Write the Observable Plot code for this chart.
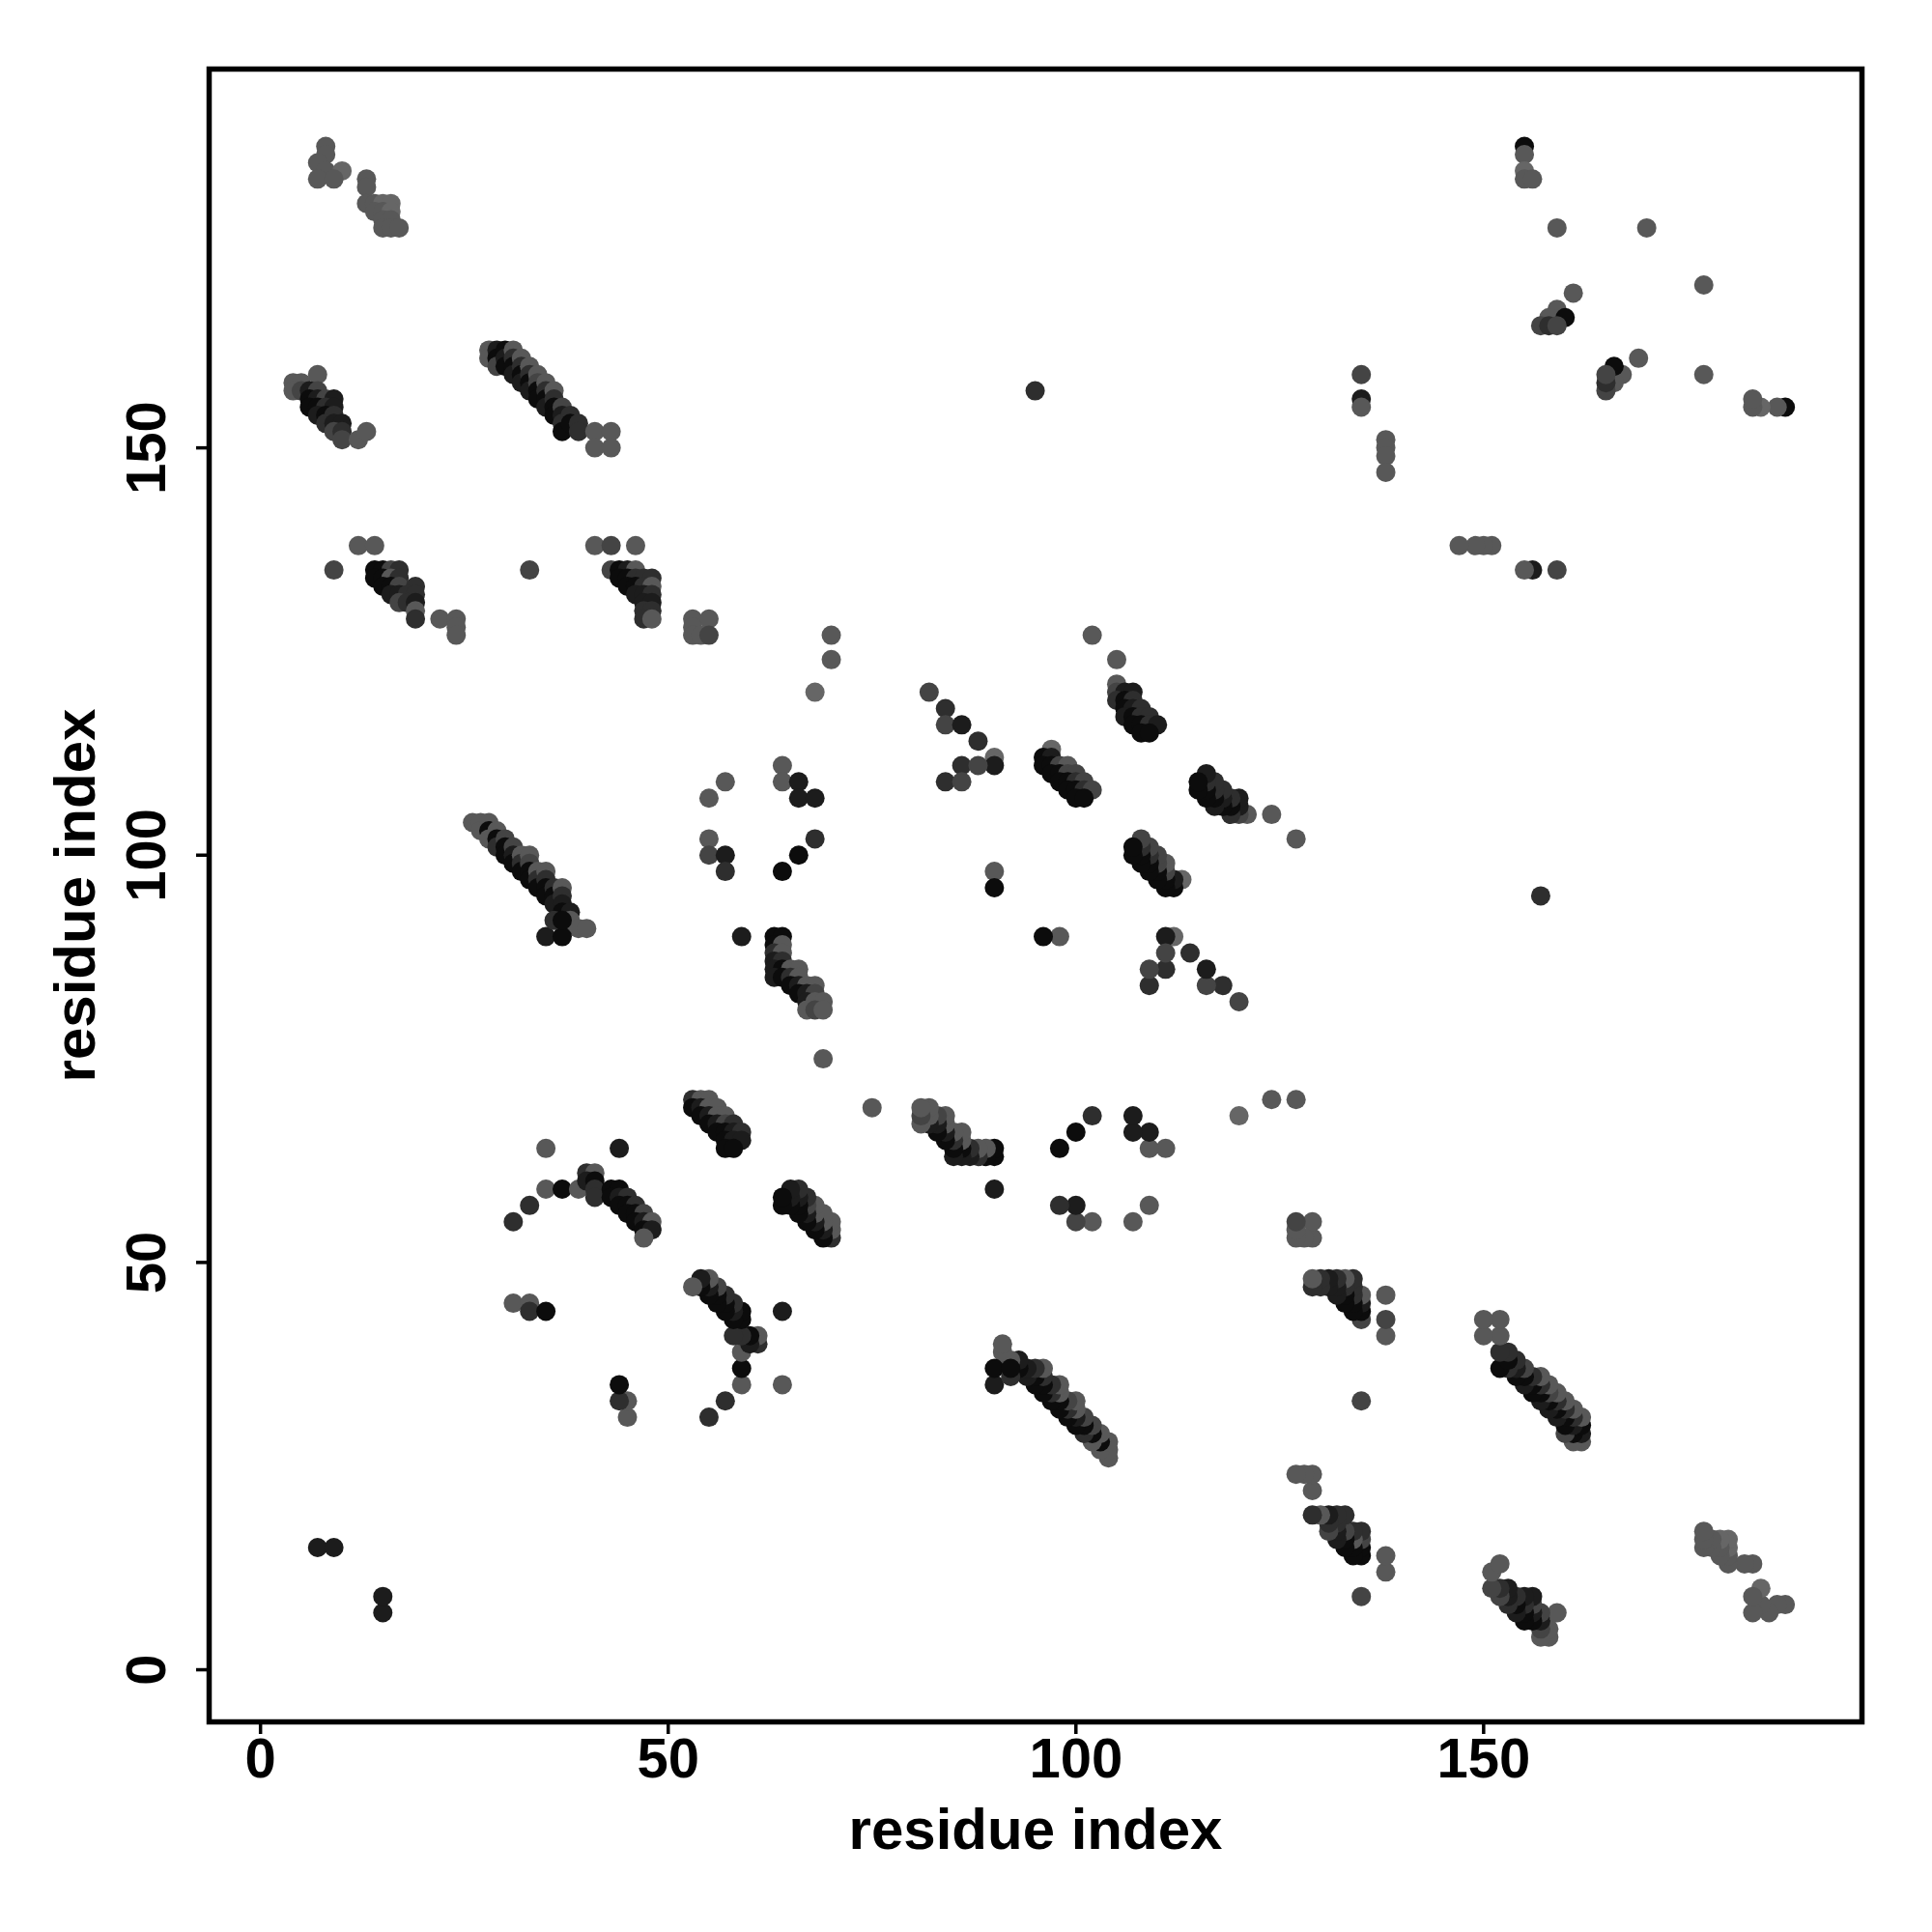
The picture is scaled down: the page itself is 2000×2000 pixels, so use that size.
<!DOCTYPE html>
<html><head><meta charset="utf-8">
<script src="https://cdn.jsdelivr.net/npm/d3@7"></script>
<script src="https://cdn.jsdelivr.net/npm/@observablehq/plot@0.6"></script>
<style>html,body{margin:0;padding:0;background:#fff}</style>
</head><body><div id="chart"></div>
<script>
// Tick values
const xTicks = [0, 50, 100, 150];
const yTicks = [0, 50, 100, 150];
// grey levels (index 0 = darkest)
const shadeColors = ["#0c0c0c", "#1c1c1c", "#2e2e2e", "#444444", "#585858", "#666666"];

// contacts [residue i, residue j, shade]; contact map is symmetric (drawn at (i,j) and (j,i))
const clusterA = [[8,187,4],[8,186,4],[7,185,4],[8,184,4],[10,184,5],[7,183,4],[9,183,4]];
const clusterB = [[13,183,4],[13,182,4],[13,180,4],[14,180,4],[15,180,5],[16,180,5],[14,179,4],[15,179,4],[16,179,5],[15,178,4],[16,178,4],[15,177,4],[16,177,4],[17,177,4]];
const clusterC = [[4,158,4],[5,158,4],[7,159,4],[4,157,4],[5,157,3],[6,157,1],[7,157,3],[6,156,0],[7,156,1],[8,156,3],[9,156,1],[6,155,0],[7,155,0],[8,155,2],[9,155,1],[7,154,1],[8,154,0],[9,154,2],[8,153,2],[9,153,1],[10,153,1],[9,152,3],[10,152,2],[10,151,3],[12,151,4],[13,152,4]];
const clusterD = [[28,162,4],[28,161,4],[29,162,1],[29,161,0],[29,160,3],[30,162,0],[30,161,1],[30,160,0],[31,162,4],[31,161,2],[31,160,0],[31,159,1],[32,161,4],[32,160,2],[32,159,0],[32,158,1],[33,160,4],[33,159,2],[33,158,0],[33,157,1],[34,159,4],[34,158,3],[34,157,0],[34,156,0],[35,158,4],[35,157,2],[35,156,0],[35,155,1],[36,157,4],[36,156,2],[36,155,0],[36,154,0],[37,155,3],[37,154,1],[37,153,2],[37,152,0],[38,154,2],[38,153,0],[39,153,2],[39,152,2],[41,152,4],[43,152,4],[41,150,4],[43,150,4]];
const clusterE = [[12,138,4],[14,138,4],[9,135,3],[14,135,0],[15,135,0],[16,135,3],[17,135,2],[14,134,0],[15,134,0],[16,134,4],[17,134,2],[15,133,0],[16,133,0],[17,133,3],[19,133,2],[16,132,1],[17,132,1],[18,132,2],[19,132,2],[17,131,3],[18,131,2],[19,131,1],[19,130,4],[19,129,2],[22,129,4],[24,129,4],[24,128,4],[24,127,4]];
const clusterF = [[41,138,4],[43,138,3],[46,138,4],[33,135,3],[43,135,3],[44,135,0],[45,135,1],[46,135,4],[44,134,0],[45,134,0],[46,134,2],[47,134,2],[48,134,2],[45,133,0],[46,133,0],[47,133,2],[48,133,4],[46,132,1],[47,132,1],[48,132,2],[47,131,1],[48,131,1],[47,130,2],[48,130,2],[47,129,2],[48,129,4]];
const clusterG = [[53,129,4],[55,129,4],[53,128,4],[53,127,4],[54,127,4],[55,127,3]];
const clusterH = [[26,104,4],[27,104,4],[27,103,4],[28,104,4],[28,103,0],[28,102,4],[29,103,4],[29,102,0],[29,101,2],[30,102,3],[30,101,0],[30,100,0],[31,101,3],[31,100,1],[31,99,0],[32,100,4],[32,99,2],[32,98,0],[33,100,4],[33,99,3],[33,98,0],[33,97,0],[34,98,4],[34,97,2],[34,96,0],[35,98,4],[35,97,2],[35,96,0],[35,95,0],[36,96,2],[36,95,0],[36,94,1],[37,96,4],[37,95,2],[37,94,1],[37,93,0],[38,93,1],[38,92,4],[39,91,4],[40,91,4],[35,90,1],[37,90,0],[36,92,2],[37,92,0]];
const clusterI = [[57,109,4],[55,107,4],[55,102,4],[55,100,3],[57,100,1],[57,98,2]];
const scatterMid = [[70,127,4],[70,124,4],[68,120,5],[82,120,3],[84,118,2],[84,116,3],[86,116,1],[88,114,2],[90,112,5],[90,111,1],[86,111,2],[88,111,3],[84,109,2],[86,109,3],[64,111,4],[64,109,4],[66,109,1],[66,107,1],[68,107,1],[68,102,2],[66,100,0],[64,98,0],[90,98,4],[90,96,0]];
const clusterJ = [[97,113,5],[96,112,0],[97,112,1],[96,111,0],[97,111,0],[98,111,3],[99,111,4],[97,110,0],[98,110,0],[99,110,3],[100,110,3],[98,109,0],[99,109,0],[100,109,2],[101,109,3],[99,108,0],[100,108,0],[101,108,2],[102,108,3],[100,107,0],[101,107,0]];
const clusterK = [[102,127,4],[105,124,4],[105,121,4],[105,120,3],[106,120,1],[107,120,1],[105,119,2],[106,119,0],[107,119,2],[106,118,0],[107,118,1],[108,118,2],[106,117,1],[107,117,0],[108,117,2],[109,117,2],[107,116,0],[108,116,0],[109,116,2],[110,116,1],[108,115,0],[109,115,0]];
const clusterTop = [[155,187,0],[155,186,4],[155,184,5],[155,183,4],[156,183,4],[159,177,4],[170,177,4],[161,169,4],[159,167,4],[158,166,4],[160,166,0],[157,165,3],[158,165,2],[159,165,3],[135,159,3],[135,156,1],[135,155,4],[138,151,4],[138,150,4],[138,149,4],[138,147,4],[95,157,2]];
const clusterN = [[53,70,2],[54,70,4],[55,70,4],[53,69,0],[54,69,1],[55,69,4],[56,69,4],[54,68,0],[55,68,1],[56,68,4],[57,68,4],[55,67,0],[56,67,1],[57,67,3],[58,67,2],[56,66,0],[57,66,0],[58,66,1],[59,66,2],[57,65,0],[58,65,1],[59,65,1],[57,64,0],[58,64,0]];
const clusterO = [[31,55,2],[33,57,2],[35,59,4],[37,59,0],[39,59,4],[40,61,2],[41,61,4],[40,60,1],[41,60,0],[41,59,2],[41,58,2],[43,59,0],[44,59,0],[43,58,0],[44,58,1],[45,58,2],[44,57,0],[45,57,0],[46,57,2],[45,56,0],[46,56,0],[47,56,3],[46,55,0],[47,55,1],[48,55,4],[47,54,0],[48,54,1],[47,53,4],[44,64,1],[35,64,4]];
const clusterP = [[31,45,4],[33,45,4],[33,44,2],[35,44,0]];
const clusterR = [[63,90,0],[64,90,0],[63,89,0],[64,89,4],[63,88,2],[64,88,4],[63,87,1],[64,87,2],[63,86,1],[64,86,0],[65,86,4],[66,86,4],[63,85,1],[64,85,0],[65,85,2],[66,85,4],[65,84,0],[66,84,1],[67,84,4],[68,84,4],[66,83,0],[67,83,1],[68,83,3],[67,82,1],[68,82,4],[69,82,4],[67,81,4],[68,81,3],[69,81,4],[69,75,4],[59,90,1]];
const clusterS = [[7,15,1],[9,15,1]];

const contacts = [clusterA, clusterB, clusterC, clusterD, clusterE, clusterF, clusterG, clusterH, clusterI,
  scatterMid, clusterJ, clusterK, clusterTop, clusterN, clusterO, clusterP, clusterR, clusterS]
  .flat().map(([i, j, s]) => ({i, j, color: shadeColors[s]}));

const font = "'Liberation Sans', Arial, Helvetica, sans-serif";
const chart = Plot.plot({
  width: 2000, height: 2000,
  marginLeft: 216, marginRight: 73, marginTop: 71, marginBottom: 218,
  x: {domain: [-6.3, 196.4]},
  y: {domain: [-6.4, 196.5]},
  color: {type: "identity"},
  style: {fontFamily: font, background: "#fff", color: "#000"},
  marks: [
    Plot.dot(contacts, {x: "i", y: "j", r: 10, fill: "color", stroke: null}),
    Plot.dot(contacts, {x: "j", y: "i", r: 10, fill: "color", stroke: null}),
    Plot.frame({stroke: "#000", strokeWidth: 5.5}),
    Plot.axisX(xTicks, {tickSize: 13, strokeWidth: 3.5, tickPadding: 3, fontSize: 58, fontWeight: "bold", label: null}),
    Plot.axisY(yTicks, {tickSize: 13, strokeWidth: 3.5, tickRotate: -90, tickPadding: 33, fontSize: 58, fontWeight: "bold", label: null}),
    Plot.text(["residue index"], {frameAnchor: "bottom", dy: 131, lineAnchor: "bottom", fontSize: 60, fontWeight: "bold"}),
    Plot.text(["residue index"], {frameAnchor: "left", dx: -119, rotate: -90, textAnchor: "middle", lineAnchor: "bottom", fontSize: 60, fontWeight: "bold"})
  ]
});
document.getElementById("chart").appendChild(chart);
</script>
</body></html>
